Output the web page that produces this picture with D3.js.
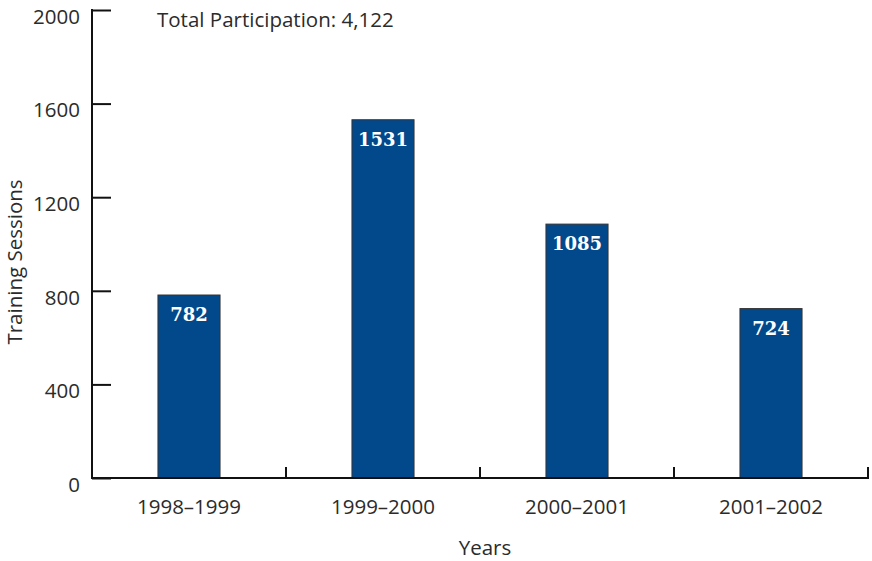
<!DOCTYPE html>
<html><head><meta charset="utf-8">
<script src="https://cdn.jsdelivr.net/npm/d3@7"></script>
<style>
body{margin:0;background:#fff;}
text{font-family:"Open Sans",sans-serif;fill:#2b2b2b;}
</style></head>
<body><svg id="c" width="872" height="561"></svg>
<script>
const categories = ["1998–1999","1999–2000","2000–2001","2001–2002"];
const values = [782,1531,1085,724];
const yTicks = [0,400,800,1200,1600,2000];
const title = "Total Participation: 4,122";
const yLabel = "Training Sessions";
const xLabel = "Years";

const svg = d3.select("#c");
const x0 = 92, x1 = 868, yTop = 10, yBot = 478;
const fs = "20.5px";
const x = d3.scaleBand().domain(categories).range([x0,x1]).paddingInner(0.68).paddingOuter(0.34);
const y = d3.scaleLinear().domain([0,2000]).range([yBot,yTop]);

// bars
svg.selectAll("rect.bar").data(values).enter().append("rect")
  .attr("x",(d,i)=>x(categories[i])).attr("width",x.bandwidth())
  .attr("y",d=>y(d)).attr("height",d=>yBot-y(d))
  .attr("fill","#02498c").attr("stroke","#333").attr("stroke-width",1);

svg.selectAll("text.val").data(values).enter().append("text")
  .attr("x",(d,i)=>x(categories[i])+x.bandwidth()/2).attr("y",d=>y(d)+26)
  .attr("text-anchor","middle")
  .style("font-family","'DejaVu Serif','Liberation Serif',serif").style("font-weight","bold")
  .style("font-size","18px").style("fill","#fff").text(d=>d);

// y axis
const yAxis = d3.axisLeft(y).tickValues(yTicks).tickSize(-19).tickPadding(12).tickFormat(d3.format("d"));
const gy = svg.append("g").attr("transform",`translate(${x0},0)`).call(yAxis);
gy.select(".domain").remove();
gy.selectAll(".tick line").attr("stroke","#111").attr("stroke-width",2);
gy.selectAll(".tick text").style("font-size",fs).style("font-family","'Open Sans',sans-serif")
  .attr("fill","#2b2b2b").attr("dy","0.7em").attr("y",-1);
svg.append("line").attr("x1",x0).attr("x2",x0).attr("y1",yTop-1).attr("y2",yBot+1).attr("stroke","#111").attr("stroke-width",2);

// x axis
svg.append("line").attr("x1",x0).attr("x2",x1+1).attr("y1",yBot).attr("y2",yBot).attr("stroke","#111").attr("stroke-width",2);
const step = x.step();
const bounds = categories.map((c,i)=>x0+step*(i+1));
svg.selectAll("line.xt").data(bounds).enter().append("line")
  .attr("x1",d=>d).attr("x2",d=>d).attr("y1",yBot).attr("y2",yBot-11)
  .attr("stroke","#111").attr("stroke-width",2);
svg.selectAll("text.xl").data(categories).enter().append("text")
  .attr("x",d=>x(d)+x.bandwidth()/2).attr("y",514).attr("text-anchor","middle")
  .style("font-size",fs).text(d=>d);

svg.append("text").attr("x",485).attr("y",555).attr("text-anchor","middle").style("font-size",fs).text(xLabel);
svg.append("text").attr("transform","translate(22,262) rotate(-90)").attr("text-anchor","middle").style("font-size",fs).text(yLabel);
svg.append("text").attr("x",157).attr("y",27).style("font-size",fs).text(title);
</script></body></html>
